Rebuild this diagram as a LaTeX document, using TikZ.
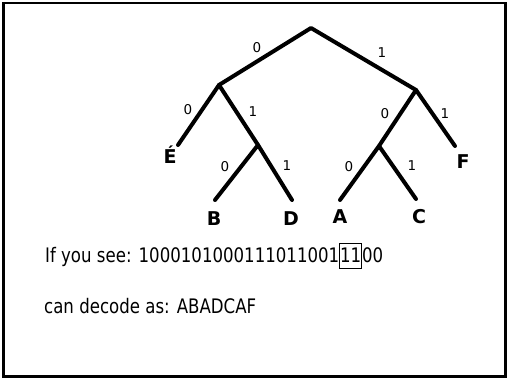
\documentclass[tikz,border=0pt]{standalone}
\usepackage{fontspec}
\setmainfont{DejaVu Sans}
\begin{document}
\begin{tikzpicture}[x=1pt,y=-1pt,
  edge/.style={line width=4pt, line cap=round, line join=round},
  bit/.style={font=\fontsize{13.5}{13.5}\selectfont, inner sep=0pt},
  leaf/.style={font=\fontsize{19}{19}\selectfont\bfseries, inner sep=0pt},
  line/.style={font=\fontsize{20}{20}\selectfont, anchor=base west, inner sep=0pt, xscale=0.83}]
\useasboundingbox (0,0) rectangle (508,379);
\draw[line width=2.8pt] (3.5,3) rectangle (505.5,376.5);

% tree junctions and leaf ends
\coordinate (r)  at (311,28);
\coordinate (l)  at (219,85);
\coordinate (rr) at (416,90);
\coordinate (lr) at (258,145);
\coordinate (rl) at (379,146);
\coordinate (e)  at (178,145);
\coordinate (f)  at (455,146);
\coordinate (b)  at (215,200);
\coordinate (d)  at (292,200);
\coordinate (a)  at (340,200);
\coordinate (c)  at (416,199);

\draw[edge] (e) -- (l) -- (r) -- (rr) -- (f);
\draw[edge] (l) -- (lr);
\draw[edge] (rr) -- (rl);
\draw[edge] (b) -- (lr) -- (d);
\draw[edge] (a) -- (rl) -- (c);

% branch bits
\node[bit] (b1)  at (257,48)  {0};
\node[bit] (b2)  at (382,53)  {1};
\node[bit] (b3)  at (188,110) {0};
\node[bit] (b4)  at (253,112) {1};
\node[bit] (b5)  at (385,114) {0};
\node[bit] (b6)  at (445,114) {1};
\node[bit] (b7)  at (225,167) {0};
\node[bit] (b8)  at (287,166) {1};
\node[bit] (b9)  at (349,167) {0};
\node[bit] (b10) at (412,166) {1};

% leaf symbols
\node[leaf] (le) at (170,155) {É};
\node[leaf] (lf) at (463,162) {F};
\node[leaf] (lb) at (214,219) {B};
\node[leaf] (ld) at (291,219) {D};
\node[leaf] (la) at (340,217) {A};
\node[leaf] (lc) at (419,217) {C};

% encoded message and its decoding
\node[line] (msg) at (45,262) {If you see: 1000101000111011001{\setlength\fboxsep{0pt}\setlength\fboxrule{1pt}\fbox{\rule[-6pt]{0pt}{24pt}11}}00};
\node[line] (dec) at (44,313) {can decode as: ABADCAF};
\end{tikzpicture}
\end{document}
